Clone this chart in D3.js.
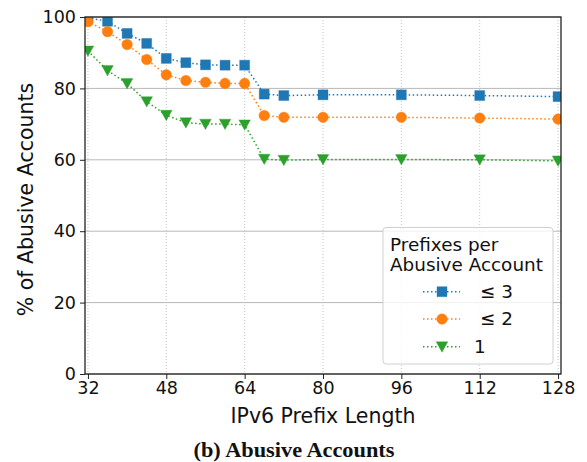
<!DOCTYPE html>
<html>
<head>
<meta charset="utf-8">
<script src="https://cdn.jsdelivr.net/npm/d3@7/dist/d3.min.js"></script>
<style>
  html, body { margin: 0; padding: 0; background: #fff; }
  svg { display: block; }
  text { font-family: "DejaVu Sans", sans-serif; }
</style>
</head>
<body>
<script>
// ---- data ----
const prefixLengths = [32, 36, 40, 44, 48, 52, 56, 60, 64, 68, 72, 80, 96, 112, 128];
const seriesLe3 = [99.8, 98.8, 95.4, 92.6, 88.4, 87.2, 86.6, 86.5, 86.5, 78.4, 78.0, 78.2, 78.2, 78.0, 77.7];
const seriesLe2 = [98.7, 95.9, 92.3, 88.1, 83.8, 82.2, 81.7, 81.4, 81.4, 72.4, 71.9, 71.9, 71.9, 71.7, 71.4];
const series1   = [90.5, 85.0, 81.4, 76.3, 72.5, 70.4, 70.0, 70.0, 69.8, 60.2, 59.9, 60.1, 60.1, 60.0, 59.7];
const seriesLabels = ["\u2264 3", "\u2264 2", "1"];
const xTicks = [32, 48, 64, 80, 96, 112, 128];
const yTicks = [0, 20, 40, 60, 80, 100];
const xTitle = "IPv6 Prefix Length";
const yTitle = "% of Abusive Accounts";
const legendTitle = ["Prefixes per", "Abusive Account"];
const caption = "(b) Abusive Accounts";

const colors = ["#1f77b4", "#ff7f0e", "#2ca02c"];
const markers = ["square", "circle", "triangle"];

const W = 587, H = 462;
const plot = { left: 85, right: 561, top: 17, bottom: 374 };

const svg = d3.select("body").append("svg").attr("width", W).attr("height", H);

const x = d3.scaleLinear().domain([31.4, 128.6]).range([plot.left, plot.right]);
const y = d3.scaleLinear().domain([0, 100]).range([plot.bottom, plot.top]);

// clip
svg.append("defs").append("clipPath").attr("id", "plotclip")
  .append("rect").attr("x", plot.left).attr("y", plot.top)
  .attr("width", plot.right - plot.left).attr("height", plot.bottom - plot.top);

// grid
const grid = svg.append("g");
grid.selectAll(".hg").data(yTicks).join("line")
  .attr("x1", plot.left).attr("x2", plot.right)
  .attr("y1", d => y(d)).attr("y2", d => y(d))
  .attr("stroke", "#b8b8b8").attr("stroke-width", 1);
grid.selectAll(".vg").data(xTicks).join("line")
  .attr("x1", d => x(d)).attr("x2", d => x(d))
  .attr("y1", plot.top).attr("y2", plot.bottom)
  .attr("stroke", "#c4c4c4").attr("stroke-width", 1)
  .attr("stroke-dasharray", "1,2");

// axes
const xAxis = d3.axisBottom(x).tickValues(xTicks).tickSize(5).tickPadding(3).tickFormat(d3.format("d"));
const yAxis = d3.axisLeft(y).tickValues(yTicks).tickSize(5).tickPadding(4).tickFormat(d3.format("d"));

const gx = svg.append("g").attr("transform", `translate(0,${plot.bottom})`).call(xAxis);
const gy = svg.append("g").attr("transform", `translate(${plot.left},0)`).call(yAxis);
[gx, gy].forEach(g => {
  g.select(".domain").remove();
  g.selectAll(".tick line").attr("stroke", "#222").attr("stroke-width", 1);
  g.selectAll(".tick text").attr("fill", "#111")
    .style("font-family", "DejaVu Sans, sans-serif").style("font-size", "17.5px");
});

// series
const allSeries = [seriesLe3, seriesLe2, series1];
const symbolFor = (m, size) => {
  if (m === "square") return d3.symbol(d3.symbolSquare, size)();
  if (m === "circle") return d3.symbol(d3.symbolCircle, size)();
  return null;
};
function drawMarker(g, m, cx, cy, color) {
  if (m === "triangle") {
    const s = 5.8;
    g.append("path")
      .attr("d", `M${cx - s},${cy - s * 0.85} L${cx + s},${cy - s * 0.85} L${cx},${cy + s * 0.95} Z`)
      .attr("fill", color).attr("stroke", color).attr("stroke-width", 0.6).attr("stroke-opacity", 0.6);
  } else {
    const size = m === "square" ? 100 : 88;
    g.append("path").attr("d", symbolFor(m, size))
      .attr("transform", `translate(${cx},${cy})`)
      .attr("fill", color).attr("stroke", color).attr("stroke-width", 0.6).attr("stroke-opacity", 0.6);
  }
}

const plotG = svg.append("g").attr("clip-path", "url(#plotclip)");
const line = d3.line().x((d, i) => x(prefixLengths[i])).y(d => y(d));
allSeries.forEach((vals, si) => {
  const g = plotG.append("g");
  g.append("path").datum(vals).attr("d", line)
    .attr("fill", "none").attr("stroke", colors[si])
    .attr("stroke-width", 1.5).attr("stroke-dasharray", "1.5,2.5");
  vals.forEach((v, i) => drawMarker(g, markers[si], x(prefixLengths[i]), y(v), colors[si]));
});

// spines
svg.append("rect").attr("x", plot.left).attr("y", plot.top)
  .attr("width", plot.right - plot.left).attr("height", plot.bottom - plot.top)
  .attr("fill", "none").attr("stroke", "#222").attr("stroke-width", 1.3);

// axis titles
svg.append("text").attr("x", (plot.left + plot.right) / 2).attr("y", 423)
  .attr("text-anchor", "middle").attr("fill", "#111")
  .style("font-size", "20.5px").text(xTitle);
svg.append("text")
  .attr("transform", `translate(32.5,${(plot.top + plot.bottom) / 2 + 4}) rotate(-90)`)
  .attr("text-anchor", "middle").attr("fill", "#111")
  .style("font-size", "20.5px").text(yTitle);

// legend
const lg = svg.append("g");
lg.append("rect").attr("x", 383).attr("y", 227.5).attr("width", 170).attr("height", 136.5)
  .attr("rx", 3).attr("fill", "#fff").attr("fill-opacity", 0.8)
  .attr("stroke", "#d0d0d0").attr("stroke-width", 1);
legendTitle.forEach((t, i) => {
  lg.append("text").attr("x", 390).attr("y", 250.5 + i * 20.2)
    .attr("fill", "#111").style("font-size", "18.4px").text(t);
});
const rowY = [291.7, 319, 346.7];
seriesLabels.forEach((lab, i) => {
  const cy = rowY[i];
  lg.append("line").attr("x1", 423).attr("x2", 460).attr("y1", cy).attr("y2", cy)
    .attr("stroke", colors[i]).attr("stroke-width", 1.5).attr("stroke-dasharray", "1.5,2.5");
  drawMarker(lg, markers[i], 442, cy, colors[i]);
  lg.append("text").attr("x", i === 2 ? 474 : 480).attr("y", cy + 5.8)
    .attr("fill", "#111").style("font-size", "18.4px").text(lab);
});

// caption
svg.append("text").attr("x", 193.5).attr("y", 457)
  .attr("text-anchor", "start").attr("fill", "#111")
  .attr("textLength", 201).attr("lengthAdjust", "spacingAndGlyphs")
  .style("font-family", "Liberation Serif, serif").style("font-weight", "bold")
  .style("font-size", "20px").text(caption);
</script>
</body>
</html>
